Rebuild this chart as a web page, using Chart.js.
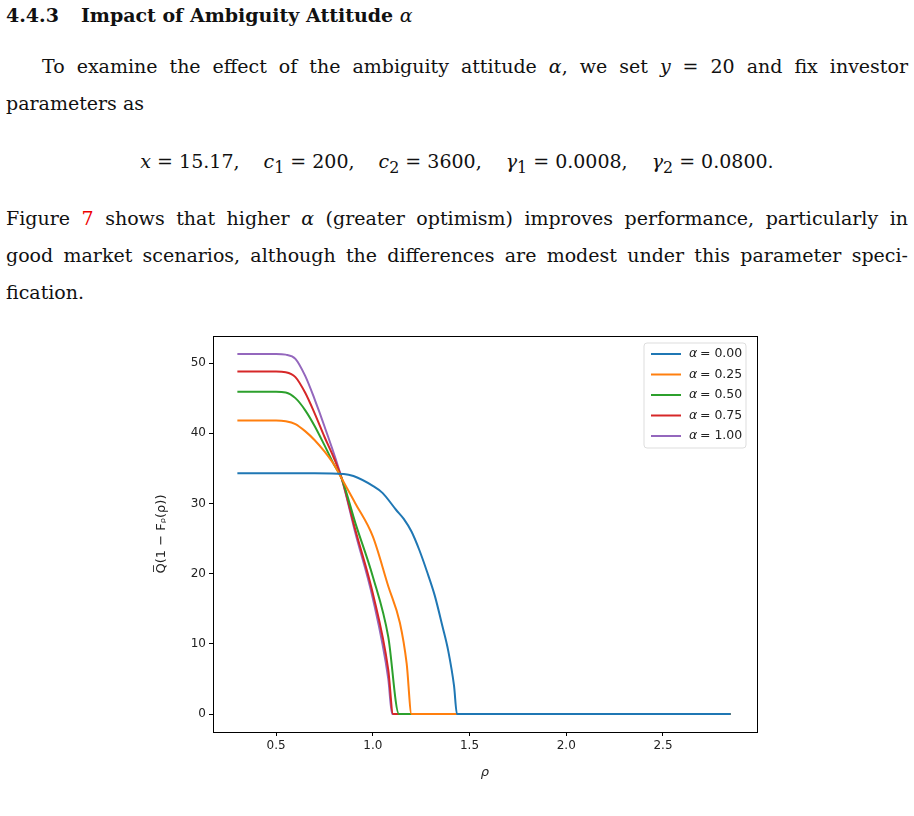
<!DOCTYPE html>
<html>
<head>
<meta charset="UTF-8">
<title>Impact of Ambiguity Attitude</title>
<script src="https://cdn.jsdelivr.net/npm/chart.js"></script>
<style>
  body { margin: 0; width: 914px; height: 816px; background: #fff; font-family: "DejaVu Serif", serif; color: #111; overflow: hidden; position: relative; }
  .h { position: absolute; left: 6px; top: 4px; font-size: 19px; font-weight: bold; }
  .h span { margin-left: 22px; }
  .l { position: absolute; left: 6px; width: 902px; font-size: 19px; text-align: justify; text-align-last: justify; white-space: nowrap; }
  .l.last { text-align-last: left; }
  .eq { position: absolute; left: 0; width: 914px; top: 150px; text-align: center; font-size: 19px; }
  .eq .g { margin: 0 12px; }
  .ref { color: #e00; }
  .box { position: absolute; left: 150px; top: 325px; width: 620px; height: 455px; }
</style>
</head>
<body>
<div class="h">4.4.3<span>Impact of Ambiguity Attitude <i style="font-weight:normal">α</i></span></div>
<div class="l" style="top:55px;left:42px;width:866px">To examine the effect of the ambiguity attitude <i>α</i>, we set <i>y</i> = 20 and fix investor</div>
<div class="l last" style="top:92px">parameters as</div>
<div class="eq"><i>x</i> = 15.17,<span class="g"></span><i>c</i><sub>1</sub> = 200,<span class="g"></span><i>c</i><sub>2</sub> = 3600,<span class="g"></span><i>γ</i><sub>1</sub> = 0.0008,<span class="g"></span><i>γ</i><sub>2</sub> = 0.0800.</div>
<div class="l" style="top:207px">Figure <span class="ref">7</span> shows that higher <i>α</i> (greater optimism) improves performance, particularly in</div>
<div class="l" style="top:244px">good market scenarios, although the differences are modest under this parameter speci-</div>
<div class="l last" style="top:281px">fication.</div>
<div class="box"><canvas id="c"></canvas></div>
<script>
// ρ grid and values, one array per α
const labels = ['α = 0.00', 'α = 0.25', 'α = 0.50', 'α = 0.75', 'α = 1.00'];
const colors = ['#1f77b4', '#ff7f0e', '#2ca02c', '#d62728', '#9467bd'];

const rho0 = [0.30, 0.50, 0.70, 0.85, 0.90, 1.00, 1.05, 1.12, 1.16, 1.20, 1.24, 1.28, 1.32, 1.36, 1.39, 1.42, 1.435, 2.85];
const q0   = [34.3, 34.3, 34.3, 34.2, 33.9, 32.5, 31.5, 29.1, 27.8, 26.0, 23.4, 20.3, 16.9, 12.5, 9.0, 4.0, 0, 0];

const rho1 = [0.30, 0.50, 0.55, 0.60, 0.65, 0.70, 0.75, 0.80, 0.84, 0.91, 1.00, 1.08, 1.14, 1.175, 1.20, 2.85];
const q1   = [41.8, 41.8, 41.7, 41.3, 40.3, 39.0, 37.4, 35.5, 33.5, 30.0, 25.3, 18.2, 13.0, 7.2, 0, 0];

const rho2 = [0.30, 0.50, 0.55, 0.60, 0.65, 0.70, 0.75, 0.80, 0.84, 0.91, 1.00, 1.08, 1.135, 2.85];
const q2   = [45.9, 45.9, 45.8, 45.0, 43.3, 41.0, 38.3, 35.5, 33.5, 27.2, 19.6, 11.0, 0, 0];

const rho3 = [0.30, 0.50, 0.55, 0.60, 0.65, 0.70, 0.75, 0.80, 0.84, 0.91, 1.00, 1.08, 1.105, 2.85];
const q3   = [48.8, 48.8, 48.7, 48.0, 45.8, 42.8, 39.5, 36.4, 33.5, 26.2, 17.2, 6.3, 0, 0];

const rho4 = [0.30, 0.50, 0.55, 0.60, 0.65, 0.70, 0.75, 0.84, 0.91, 1.00, 1.08, 1.10, 2.85];
const q4   = [51.3, 51.3, 51.2, 50.6, 48.2, 44.8, 41.0, 33.5, 25.8, 16.5, 5.0, 0, 0];

const xTicks = [0.5, 1.0, 1.5, 2.0, 2.5];
const yTicks = [0, 10, 20, 30, 40, 50];

const rhos = [rho0, rho1, rho2, rho3, rho4];
const qs = [q0, q1, q2, q3, q4];

const frameAndLegend = {
  id: 'frameAndLegend',
  afterDatasetsDraw(chart) {
    const { ctx, chartArea: a } = chart;
    ctx.save();
    ctx.strokeStyle = '#000';
    ctx.lineWidth = 1;
    ctx.strokeRect(a.left + 0.5, a.top + 0.5, a.right - a.left, a.bottom - a.top);
    // legend box, upper right
    const bx = a.right - 113, by = a.top + 7, bw = 102, bh = 105;
    ctx.fillStyle = 'rgba(255,255,255,0.85)';
    ctx.strokeStyle = '#ddd';
    ctx.beginPath();
    ctx.roundRect(bx, by, bw, bh, 3);
    ctx.fill(); ctx.stroke();
    ctx.textBaseline = 'middle';
    chart.data.datasets.forEach((d, i) => {
      const y = by + 11 + i * 20.5;
      ctx.strokeStyle = d.borderColor;
      ctx.lineWidth = 2;
      ctx.beginPath(); ctx.moveTo(bx + 7, y); ctx.lineTo(bx + 37, y); ctx.stroke();
      ctx.fillStyle = '#222';
      ctx.font = 'italic 12.5px "DejaVu Sans"';
      ctx.fillText('α', bx + 45, y);
      ctx.font = '12.5px "DejaVu Sans"';
      ctx.fillText(d.label.slice(1), bx + 52, y);
    });
    ctx.restore();
  }
};

new Chart(document.getElementById('c'), {
  type: 'line',
  data: {
    datasets: labels.map((l, i) => ({
      label: l,
      data: rhos[i].map((r, k) => ({ x: r, y: qs[i][k] })),
      borderColor: colors[i],
      borderWidth: 2,
      pointRadius: 0,
      cubicInterpolationMode: 'monotone',
      fill: false
    }))
  },
  options: {
    responsive: true,
    maintainAspectRatio: false,
    animation: false,
    layout: { padding: { top: 11, right: 13 } },
    plugins: { legend: { display: false }, tooltip: { enabled: false } },
    scales: {
      x: {
        type: 'linear', min: 0.174, max: 2.986,
        afterBuildTicks: s => { s.ticks = xTicks.map(v => ({ value: v })); },
        afterFit: s => { s.height = 48; },
        grid: { drawOnChartArea: false, tickLength: 4, color: '#000' },
        border: { color: '#000' },
        ticks: { color: '#222', font: { family: 'DejaVu Sans', size: 12 }, callback: v => v.toFixed(1), padding: 3 },
        title: { display: true, text: 'ρ', color: '#222', font: { family: 'DejaVu Sans', size: 13, style: 'italic' }, padding: { top: 2, bottom: 0 } }
      },
      y: {
        min: -2.56, max: 53.85,
        afterBuildTicks: s => { s.ticks = yTicks.map(v => ({ value: v })); },
        afterFit: s => { s.width = 63; },
        grid: { drawOnChartArea: false, tickLength: 4, color: '#000' },
        border: { color: '#000' },
        ticks: { color: '#222', font: { family: 'DejaVu Sans', size: 12 } },
        title: { display: true, text: 'Q̅(1 − Fᵨ(ρ))', color: '#222', font: { family: 'DejaVu Sans', size: 13 }, padding: { bottom: 12 } }
      }
    }
  },
  plugins: [frameAndLegend]
});
</script>
</body>
</html>
